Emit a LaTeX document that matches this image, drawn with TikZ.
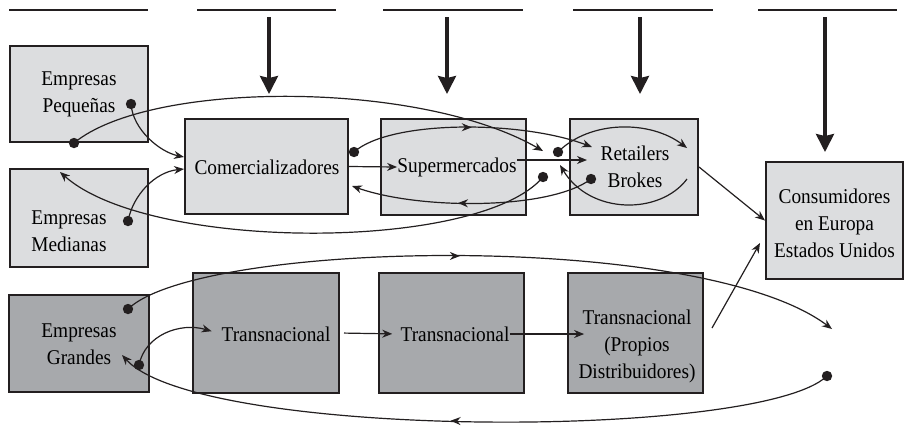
\documentclass[tikz,border=0pt]{standalone}
\usepackage{fontspec}
\setmainfont{Liberation Serif}[FakeStretch=0.92]
\usepackage{tikz}
\usetikzlibrary{arrows.meta}
\usetikzlibrary{decorations.markings}
\tikzset{>={Stealth[length=5pt,width=4pt,inset=1.6pt]}}
\definecolor{boxlight}{HTML}{DCDDDF}
\definecolor{boxdark}{HTML}{A7A9AC}
\definecolor{boxframe}{HTML}{231F20}
\tikzset{
  lightbox/.style={draw=boxframe, line width=1pt, fill=boxlight, inner sep=0pt},
  darkbox/.style={lightbox, fill=boxdark},
  boxtext/.style={align=center, inner sep=0pt, font=\fontsize{10.5}{13.5}\selectfont},
  flow/.style={->, line width=0.6pt, draw=boxframe},
  midarrow/.style={postaction={decorate}, decoration={markings, mark=at position #1 with {\arrow{>}}}},
  midarrow/.default=0.5,
  bigarrow/.style={-{Stealth[length=9pt,width=9pt,inset=1pt]}, line width=1.6pt, draw=boxframe}
}

\begin{document}
\begin{tikzpicture}[x=0.5pt, y=-0.5pt]
  \useasboundingbox (0,0) rectangle (904,430);
  % header lines and thick arrows
  \foreach \a/\b in {9/148,197/336,383/523,573/713,758/897}
    \draw[line width=0.8pt, boxframe] (\a,10) -- (\b,10);
  \foreach \x/\y in {269/94,447/94,640/94,825/152}
    \draw[bigarrow] (\x,17) -- (\x,\y);
  % boxes
  \node[lightbox, minimum width=69pt, minimum height=48pt] (peq) at (79,94) {};
  \node[lightbox, minimum width=69pt, minimum height=49pt] (med) at (79,218) {};
  \node[darkbox, minimum width=70pt, minimum height=48.5pt] (gra) at (79,343.5) {};
  \node[lightbox, minimum width=81.5pt, minimum height=47.5pt] (com) at (266.5,166.5) {};
  \node[lightbox, minimum width=72.5pt, minimum height=48pt] (sup) at (453.5,167) {};
  \node[lightbox, minimum width=64pt, minimum height=48pt] (ret) at (634,167) {};
  \node[lightbox, minimum width=68.5pt, minimum height=58.5pt] (con) at (834.5,220.5) {};
  \node[darkbox, minimum width=73pt, minimum height=60pt] (tr1) at (266,333) {};
  \node[darkbox, minimum width=72.5pt, minimum height=60pt] (tr2) at (451.5,333) {};
  \node[darkbox, minimum width=67.5pt, minimum height=60pt] (tr3) at (635.5,333) {};
  % texts
  \node[boxtext] (tpeq) at (79,94) {Empresas\\Pequeñas};
  \node[boxtext] (tmed) at (69,231) {Empresas\\Medianas};
  \node[boxtext] (tgra) at (79,344) {Empresas\\Grandes};
  \node[boxtext] (tcom) at (267,167) {Comercializadores};
  \node[boxtext] (tsup) at (457,167) {Supermercados};
  \node[boxtext] (tret) at (635,167) {Retailers\\Brokes};
  \node[boxtext] (tcon) at (834.5,223) {Consumidores\\en Europa\\Estados Unidos};
  \node[boxtext] (ttr1) at (276,334) {Transnacional};
  \node[boxtext] (ttr2) at (455,334) {Transnacional};
  \node[boxtext] (ttr3) at (637,346) {Transnacional\\(Propios\\Distribuidores)};
  % dots and loose ends
  \coordinate (dpeqA) at (131,104);
  \coordinate (dpeqB) at (74,143);
  \coordinate (dmed) at (128,221);
  \coordinate (dcom) at (354,152);
  \coordinate (dretA) at (558,152);
  \coordinate (dretB) at (543,177);
  \coordinate (dretC) at (591,179);
  \coordinate (dgraA) at (128,309);
  \coordinate (dgraB) at (139,365);
  \coordinate (dend) at (827,376);
  \coordinate (aCom1) at (184,157);
  \coordinate (aCom2) at (184,169);
  \coordinate (aCom3) at (352,186);
  \coordinate (aRet1) at (543,151);
  \coordinate (aRet2) at (592,147);
  \coordinate (aRet3) at (687,148);
  \coordinate (aRet4) at (560,165);
  \coordinate (rB) at (687,179);
  \coordinate (aMed) at (60,172);
  \coordinate (sr1) at (517,160);
  \coordinate (sr2) at (587,160);
  \coordinate (aEnd) at (832,329);
  \coordinate (aGra) at (122,355);
  \coordinate (tr3out) at (712,328);
  \coordinate (aCon) at (760,243);
  % upper flows
  \draw[flow] (dpeqA) .. controls (133,130) and (160,152) .. (aCom1);
  \draw[flow] (dmed) .. controls (133,195) and (155,172) .. (aCom2);
  \draw[flow] (dpeqB) .. controls (150,80) and (420,80) .. (aRet1);
  \draw[flow] (dretB) .. controls (480,252) and (150,252) .. (aMed);
  \draw[flow, midarrow] (dcom) .. controls (390,120) and (520,120) .. (aRet2);
  \draw[flow, midarrow=0.56] (dretC) .. controls (550,210) and (420,210) .. (aCom3);
  \draw[flow] (dretA) .. controls (590,120) and (650,120) .. (aRet3);
  \draw[flow] (rB) .. controls (660,215) and (590,215) .. (aRet4);
  \draw[flow] (com.east) -- (tsup.west);
  \draw[flow] (sr1) -- (sr2);
  \draw[flow] (ret.east) -- (con.west);
  % lower flows
  \draw[flow] (tr3out) -- (aCon);
  \draw[flow, midarrow=0.47] (dgraA) .. controls (200,240) and (700,230) .. (aEnd);
  \draw[flow, midarrow=0.53] (dend) .. controls (760,440) and (200,440) .. (aGra);
  \draw[flow, shorten >=5pt] (dgraB) .. controls (145,335) and (180,322) .. (ttr1.west);
  \draw[flow, shorten <=2pt, shorten >=4pt] (tr1.east) -- (ttr2.west);
  \draw[flow] (ttr2.east) -- ([xshift=3pt]ttr3.west |- ttr2.east);
  \foreach \p in {dpeqA,dpeqB,dmed,dcom,dretA,dretB,dretC,dgraA,dgraB,dend}
    \fill[boxframe] (\p) circle[radius=2.6pt];
\end{tikzpicture}
\end{document}
